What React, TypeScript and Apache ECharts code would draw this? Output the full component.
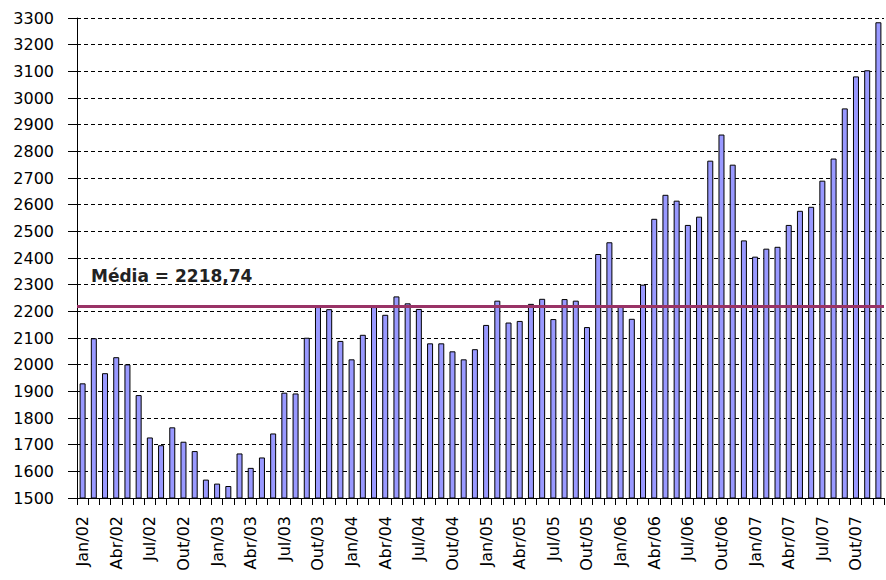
import React, { useEffect, useRef } from "react";
import * as echarts from "echarts";

const monthNames = ["Jan", "Fev", "Mar", "Abr", "Mai", "Jun", "Jul", "Ago", "Set", "Out", "Nov", "Dez"];
const years = ["02", "03", "04", "05", "06", "07"];
const categories: string[] = [];
years.forEach((y) => monthNames.forEach((m) => categories.push(`${m}/${y}`)));

const values2002_2003 = [
  1930, 2099, 1968, 2028, 2001, 1886, 1727, 1698, 1765, 1711, 1676, 1569,
  1554, 1545, 1667, 1613, 1652, 1742, 1895, 1892, 2101, 2216, 2208, 2089,
];
const values2004_2005 = [
  2020, 2112, 2216, 2187, 2256, 2230, 2209, 2080, 2080, 2050, 2020, 2058,
  2149, 2240, 2158, 2164, 2228, 2247, 2171, 2246, 2240, 2141, 2415, 2459,
];
const values2006_2007 = [
  2222, 2172, 2300, 2547, 2637, 2615, 2524, 2555, 2765, 2863, 2750, 2466,
  2405, 2435, 2442, 2524, 2577, 2592, 2690, 2773, 2961, 3081, 3104, 3284,
];
const values = [...values2002_2003, ...values2004_2005, ...values2006_2007];

const mean = 2218.74;
const meanLabel = "Média = 2218,74";
const yMin = 1500;
const yMax = 3300;
const yStep = 100;

export default function App() {
  const ref = useRef<HTMLDivElement>(null);
  useEffect(() => {
    if (!ref.current) return;
    const chart = echarts.init(ref.current, null, { renderer: "svg" });
    const font = "DejaVu Sans";
    chart.setOption({
      animation: false,
      backgroundColor: "#ffffff",
      grid: { left: 77, right: 2, top: 18, bottom: 82, containLabel: false },
      xAxis: {
        type: "category",
        data: categories,
        boundaryGap: true,
        axisLine: { show: true, lineStyle: { color: "#000", width: 1 } },
        axisTick: { show: true, interval: 0, length: 7, lineStyle: { color: "#000" } },
        axisLabel: {
          interval: 2,
          rotate: 90,
          margin: 18,
          color: "#000",
          fontFamily: font,
          fontSize: 16,
        },
        splitLine: { show: false },
      },
      yAxis: {
        type: "value",
        min: yMin,
        max: yMax,
        interval: yStep,
        axisLine: { show: true, lineStyle: { color: "#000", width: 1 } },
        axisTick: { show: true, length: 9, lineStyle: { color: "#000" } },
        axisLabel: {
          margin: 23,
          color: "#000",
          fontFamily: font,
          fontSize: 16,
          formatter: (v: number) => String(v),
        },
        splitLine: {
          show: true,
          lineStyle: { color: "#000", type: [4, 3], width: 1 },
        },
      },
      series: [
        {
          type: "bar",
          data: values,
          barWidth: 6,
          itemStyle: { color: "#9999FF", borderColor: "#000", borderWidth: 1 },
          markLine: {
            silent: true,
            symbol: "none",
            label: { show: false },
            lineStyle: { color: "#993366", width: 3, type: "solid" },
            data: [{ yAxis: mean }],
          },
        },
      ],
      graphic: [
        {
          type: "text",
          left: 91,
          top: 267,
          style: {
            text: meanLabel,
            fill: "#222",
            font: `bold 17px "${font}"`,
          },
        },
      ],
    });
    return () => chart.dispose();
  }, []);
  return (
    <div
      ref={ref}
      style={{ position: "fixed", left: 0, top: 0, width: 886, height: 580, background: "#fff" }}
    />
  );
}
